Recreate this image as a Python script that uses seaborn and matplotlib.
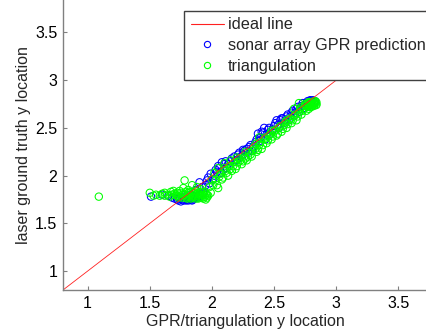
import numpy as np
import pandas as pd
import matplotlib
matplotlib.use("Agg")
import matplotlib.pyplot as plt
from matplotlib.lines import Line2D
import seaborn as sns

# ideal y = x reference line
ideal_x = [0.8, 4.0]
ideal_y = [0.8, 4.0]

# sonar array GPR prediction (x = predicted, y = laser ground truth)
gpr_x = [1.51, 1.60, 1.65, 1.70, 1.73, 1.76, 1.79, 1.82, 1.85, 1.88, 1.90, 1.93, 1.87, 1.83, 1.78, 1.90,
         1.72, 1.75, 1.80, 1.84, 1.86, 1.92, 1.74, 1.77, 1.81, 1.83, 1.68,
         1.95, 1.97, 1.99, 2.01, 2.03, 2.05, 2.07, 2.10, 2.12, 2.15, 2.18, 2.20, 2.22, 2.25, 2.28, 2.30,
         2.32, 2.35, 2.37, 2.39, 2.41, 2.43, 2.45, 2.47, 2.50, 2.52, 2.54, 2.56, 2.58, 2.60, 2.62, 2.64,
         2.66, 2.68, 2.70, 2.72, 2.74, 2.76, 2.78, 2.80, 2.82, 2.79, 2.25, 2.42, 2.08,
         1.96, 1.98, 2.02, 2.04, 2.06, 2.09, 2.11, 2.13, 2.16, 2.19, 2.21, 2.23, 2.26, 2.29, 2.31, 2.33,
         2.36, 2.38, 2.40, 2.44, 2.46, 2.49, 2.51, 2.53, 2.55, 2.57, 2.59, 2.61, 2.63, 2.65, 2.67, 2.69,
         2.71, 2.73, 2.75, 2.77, 2.81, 2.83]
gpr_y = [1.78, 1.80, 1.79, 1.76, 1.74, 1.75, 1.74, 1.76, 1.75, 1.77, 1.79, 1.82, 1.85, 1.80, 1.78, 1.93,
         1.75, 1.73, 1.75, 1.74, 1.77, 1.88, 1.76, 1.74, 1.74, 1.75, 1.77,
         1.90, 1.98, 2.02, 1.96, 2.06, 2.10, 2.03, 2.12, 2.08, 2.15, 2.20, 2.16, 2.24, 2.22, 2.28, 2.30,
         2.26, 2.35, 2.44, 2.40, 2.45, 2.38, 2.48, 2.44, 2.52, 2.58, 2.50, 2.60, 2.55, 2.62, 2.58, 2.66,
         2.63, 2.70, 2.67, 2.73, 2.71, 2.76, 2.74, 2.78, 2.77, 2.79, 2.27, 2.50, 2.14,
         1.95, 1.92, 2.00, 2.04, 2.08, 2.06, 2.15, 2.12, 2.18, 2.16, 2.22, 2.20, 2.26, 2.25, 2.32, 2.30,
         2.38, 2.36, 2.46, 2.43, 2.50, 2.48, 2.55, 2.53, 2.58, 2.60, 2.58, 2.64, 2.62, 2.68, 2.66, 2.72,
         2.70, 2.76, 2.74, 2.78, 2.79, 2.78]

# triangulation estimate
tri_x = [1.09,
         1.50, 1.53, 1.58, 1.62, 1.64, 1.67, 1.70, 1.72, 1.74, 1.76, 1.78, 1.80, 1.81, 1.83, 1.85, 1.86,
         1.88, 1.90, 1.92, 1.94, 1.95, 1.97, 1.84, 1.77, 1.73, 1.89,
         1.55, 1.60, 1.66, 1.69, 1.71, 1.75, 1.79, 1.82, 1.87, 1.91, 1.93, 1.96, 1.99,
         1.62, 1.68, 1.72, 1.74, 1.76, 1.78, 1.80, 1.82, 1.84, 1.86, 1.88, 1.90, 1.92, 1.94, 1.96, 1.81,
         1.85, 1.89, 1.93, 1.79, 1.83, 1.87, 1.91, 1.95,
         1.98, 2.00, 2.02, 2.04, 2.06, 2.08, 2.10, 2.12, 2.14, 2.16, 2.18, 2.20, 2.22, 2.24, 2.26, 2.28,
         2.30, 2.32, 2.34, 2.36, 2.38, 2.40, 2.42, 2.44, 2.46, 2.48, 2.50, 2.52, 2.54, 2.56, 2.58, 2.60,
         2.62, 2.64, 2.66, 2.68, 2.70, 2.72, 2.74, 2.76, 2.78, 2.80, 2.82, 2.84, 2.83, 2.77, 2.70, 2.75,
         2.81, 2.38, 2.27, 2.15, 2.05,
         2.01, 2.03, 2.05, 2.07, 2.09, 2.11, 2.13, 2.15, 2.17, 2.19, 2.21, 2.23, 2.25, 2.27, 2.29, 2.31,
         2.33, 2.35, 2.37, 2.39, 2.41, 2.43, 2.45, 2.47, 2.49, 2.51, 2.53, 2.55, 2.57, 2.59, 2.61, 2.63,
         2.65, 2.67, 2.69, 2.71, 2.73, 2.75, 2.79, 2.82, 2.84, 2.80, 2.78, 2.72, 2.66, 2.60, 2.48, 2.35,
         2.20, 2.10,
         2.76, 2.78, 2.80, 2.82, 2.83, 2.84, 2.79, 2.81, 2.77]
tri_y = [1.78,
         1.82, 1.79, 1.79, 1.82, 1.80, 1.83, 1.81, 1.79, 1.84, 1.80, 1.95, 1.78, 1.85, 1.76, 1.82, 1.78,
         1.88, 1.80, 1.77, 1.83, 1.75, 1.79, 1.90, 1.87, 1.77, 1.76,
         1.80, 1.81, 1.78, 1.84, 1.80, 1.82, 1.83, 1.80, 1.84, 1.86, 1.80, 1.77, 1.82,
         1.79, 1.80, 1.82, 1.78, 1.77, 1.80, 1.76, 1.78, 1.77, 1.80, 1.79, 1.77, 1.79, 1.78, 1.80, 1.82,
         1.79, 1.82, 1.76, 1.77, 1.83, 1.76, 1.83, 1.81,
         1.88, 1.96, 2.03, 1.90, 1.99, 1.96, 2.08, 2.03, 2.10, 2.05, 2.14, 2.10, 2.18, 2.12, 2.20, 2.16,
         2.24, 2.20, 2.30, 2.25, 2.32, 2.28, 2.38, 2.34, 2.42, 2.38, 2.46, 2.42, 2.50, 2.46, 2.53, 2.50,
         2.58, 2.55, 2.62, 2.58, 2.66, 2.64, 2.70, 2.68, 2.74, 2.72, 2.76, 2.75, 2.78, 2.76, 2.76, 2.73,
         2.74, 2.40, 2.25, 2.16, 2.08,
         1.90, 1.95, 1.87, 2.02, 1.98, 2.05, 2.00, 2.07, 2.10, 2.07, 2.14, 2.16, 2.15, 2.18, 2.20, 2.22,
         2.26, 2.28, 2.27, 2.35, 2.32, 2.40, 2.37, 2.44, 2.41, 2.48, 2.44, 2.52, 2.49, 2.56, 2.54, 2.60,
         2.58, 2.64, 2.62, 2.70, 2.68, 2.75, 2.76, 2.73, 2.77, 2.77, 2.70, 2.72, 2.70, 2.58, 2.47, 2.33,
         2.19, 2.13,
         2.74, 2.77, 2.75, 2.78, 2.76, 2.74, 2.73, 2.76, 2.72]

sns.set_style("ticks")
plt.rcParams["font.family"] = ["Liberation Sans", "DejaVu Sans"]

fig = plt.figure(figsize=(4.27, 3.32), dpi=100)
ax = fig.add_axes([0.147, 0.126, 0.853, 0.874])

sns.lineplot(x=ideal_x, y=ideal_y, ax=ax, color="#ff2020", linewidth=0.6)
sns.scatterplot(x=gpr_x, y=gpr_y, ax=ax, marker="o", s=28, facecolor="none",
                edgecolor="#0000ff", linewidth=0.75)
sns.scatterplot(x=tri_x, y=tri_y, ax=ax, marker="o", s=28, facecolor="none",
                edgecolor="#00ff00", linewidth=0.75)

ax.set_xlim(0.8, 3.73)
ax.set_ylim(0.8, 3.84)
ticks = [1, 1.5, 2, 2.5, 3, 3.5]
tick_labels = ["1", "1.5", "2", "2.5", "3", "3.5"]
ax.set_xticks(ticks)
ax.set_yticks(ticks)
ax.set_xticklabels(tick_labels)
ax.set_yticklabels(tick_labels)
ax.tick_params(direction="in", length=3, width=0.8, color="#808080", labelsize=11.5,
               labelcolor="black", pad=4)
for s in ("left", "bottom"):
    ax.spines[s].set_color("#808080")
    ax.spines[s].set_linewidth(1.0)
sns.despine(ax=ax)
ax.set_xlabel("GPR/triangulation y location", fontsize=11.5, labelpad=2)
ax.set_ylabel("laser ground truth y location", fontsize=11.5, labelpad=3)

handles = [
    Line2D([], [], color="#ff2020", linewidth=0.8),
    Line2D([], [], linestyle="none", marker="o", markersize=4.5, markerfacecolor="none",
           markeredgecolor="#0000ff", markeredgewidth=0.8),
    Line2D([], [], linestyle="none", marker="o", markersize=4.5, markerfacecolor="none",
           markeredgecolor="#00ff00", markeredgewidth=0.8),
]
labels = ["ideal line", "sonar array GPR prediction", "triangulation"]
leg = ax.legend(handles, labels, loc="upper left", bbox_to_anchor=(0.431, 0.967),
                bbox_transform=fig.transFigure, borderaxespad=0, fontsize=11.7,
                handlelength=2.05, handletextpad=0.25, labelspacing=0.34,
                fancybox=False, framealpha=1, edgecolor="#404040", borderpad=0.4)
leg.get_frame().set_linewidth(1.0)

fig.savefig("out.png", dpi=100)
